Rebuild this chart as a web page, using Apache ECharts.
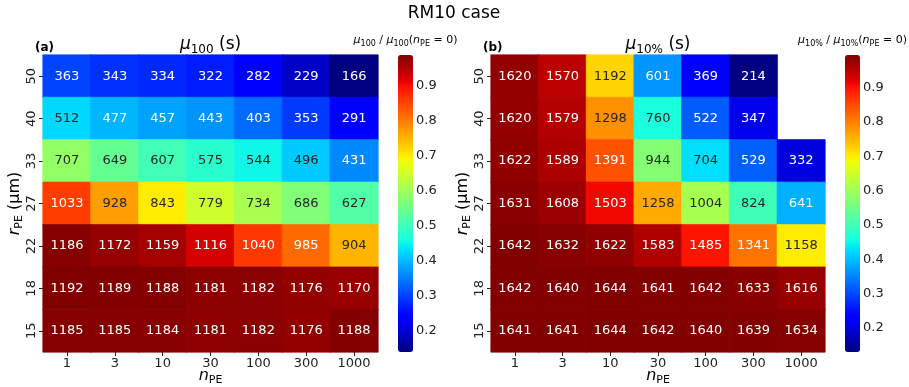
<!DOCTYPE html>
<html>
<head>
<meta charset="utf-8">
<script src="https://cdn.jsdelivr.net/npm/echarts@6/dist/echarts.min.js"></script>
<style>
  html, body { margin: 0; padding: 0; background: #fff; }
  #chart { width: 909px; height: 387px; }
</style>
</head>
<body>
<div id="chart"></div>
<script>
// rows are r_PE from top (50) to bottom (15), columns are n_PE
const rLabels = ['50', '40', '33', '27', '22', '18', '15'];
const nLabels = ['1', '3', '10', '30', '100', '300', '1000'];

const mu100 = [
  [363, 343, 334, 322, 282, 229, 166],
  [512, 477, 457, 443, 403, 353, 291],
  [707, 649, 607, 575, 544, 496, 431],
  [1033, 928, 843, 779, 734, 686, 627],
  [1186, 1172, 1159, 1116, 1040, 985, 904],
  [1192, 1189, 1188, 1181, 1182, 1176, 1170],
  [1185, 1185, 1184, 1181, 1182, 1176, 1188],
];
const mu10 = [
  [1620, 1570, 1192, 601, 369, 214, null],
  [1620, 1579, 1298, 760, 522, 347, null],
  [1622, 1589, 1391, 944, 704, 529, 332],
  [1631, 1608, 1503, 1258, 1004, 824, 641],
  [1642, 1632, 1622, 1583, 1485, 1341, 1158],
  [1642, 1640, 1644, 1641, 1642, 1633, 1616],
  [1641, 1641, 1644, 1642, 1640, 1639, 1634],
];
// value at n_PE = 0, used for the colourbar ratio
const mu100Ref = 1207;
const mu10Ref = 1652;
const cbTicks = [0.2, 0.3, 0.4, 0.5, 0.6, 0.7, 0.8, 0.9];

const FONT = 'DejaVu Sans';

// matplotlib jet
const lerp = (t, xs, ys) => {
  for (let i = 1; i < xs.length; i += 1) {
    if (t <= xs[i]) {
      const f = (t - xs[i - 1]) / (xs[i] - xs[i - 1]);
      return ys[i - 1] + f * (ys[i] - ys[i - 1]);
    }
  }
  return ys[ys.length - 1];
};
const jet = (t) => [
  lerp(t, [0, 0.35, 0.66, 0.89, 1], [0, 0, 1, 1, 0.5]),
  lerp(t, [0, 0.125, 0.375, 0.64, 0.91, 1], [0, 0, 1, 1, 0, 0]),
  lerp(t, [0, 0.11, 0.34, 0.65, 1], [0.5, 1, 1, 0, 0]),
];
const toHex = (c) => '#' + c.map((v) => Math.round(v * 255).toString(16).padStart(2, '0')).join('');
const jetColors = [];
for (let i = 0; i <= 200; i += 1) jetColors.push(toHex(jet(i / 200)));

const lum = (c) => {
  const lin = c.map((v) => (v <= 0.03928 ? v / 12.92 : Math.pow((v + 0.055) / 1.055, 2.4)));
  return 0.2126 * lin[0] + 0.7152 * lin[1] + 0.0722 * lin[2];
};

const flat = (m) => m.flat().filter((v) => v != null);

const buildData = (m) => {
  const vals = flat(m);
  const lo = Math.min(...vals);
  const hi = Math.max(...vals);
  const out = [];
  m.forEach((row, i) => {
    row.forEach((v, j) => {
      if (v == null) return;
      const c = jet((v - lo) / (hi - lo));
      out.push({
        value: [j, i, v],
        // thin border in the cell's own colour hides the seams between cells
        itemStyle: { borderColor: toHex(c), borderWidth: 0.6 },
        label: { color: lum(c) > 0.408 ? '#262626' : '#ffffff' },
      });
    });
  });
  return out;
};

const subRich = (size) => ({
  i: { fontFamily: FONT, fontSize: size, fontStyle: 'italic', lineHeight: size + 4, color: '#000' },
  n: { fontFamily: FONT, fontSize: size, lineHeight: size + 4, color: '#000' },
  s: { fontFamily: FONT, fontSize: Math.round(size * 0.7), lineHeight: Math.round(size * 0.7) + 1, verticalAlign: 'bottom', color: '#000' },
});

const panels = [
  { data: mu100, ref: mu100Ref, left: 43, width: 335, cbLeft: 398, sub: '100', tag: '(a)' },
  { data: mu10, ref: mu10Ref, left: 491, width: 334, cbLeft: 845, sub: '10%', tag: '(b)' },
];

const grid = [];
const xAxis = [];
const yAxis = [];
const series = [];
const visualMap = [];
const graphic = [];

panels.forEach((p, k) => {
  const vals = flat(p.data);
  const lo = Math.min(...vals);
  const hi = Math.max(...vals);
  grid.push({ left: p.left, top: 55, width: p.width, height: 297, outerBoundsMode: 'none', containLabel: false });
  grid.push({ left: p.cbLeft, top: 55, width: 15, height: 297, outerBoundsMode: 'none', containLabel: false });
  xAxis.push({
    type: 'category', gridIndex: 2 * k, data: nLabels,
    axisLine: { show: false },
    axisTick: { show: true, alignWithLabel: true, length: 4, lineStyle: { color: '#222' } },
    axisLabel: { fontFamily: FONT, fontSize: 13, color: '#222', margin: 5 },
    splitLine: { show: false },
    name: '{i|n}{s|PE}', nameLocation: 'middle', nameGap: 14, nameMoveOverlap: false,
    nameTextStyle: { rich: subRich(16), verticalAlign: 'top' },
  });
  xAxis.push({ type: 'value', gridIndex: 2 * k + 1, show: false, min: 0, max: 1 });
  yAxis.push({
    type: 'category', gridIndex: 2 * k, data: rLabels, inverse: true,
    axisLine: { show: false },
    axisTick: { show: true, alignWithLabel: true, length: 4, lineStyle: { color: '#222' } },
    axisLabel: { fontFamily: FONT, fontSize: 13, color: '#222', rotate: 90, margin: 5 },
    splitLine: { show: false },
    name: '{i|r}{s|PE}{n| (μm)}', nameLocation: 'middle', nameGap: 18, nameRotate: 90,
    nameMoveOverlap: false,
    nameTextStyle: { rich: subRich(16) },
  });
  yAxis.push({
    type: 'value', gridIndex: 2 * k + 1, position: 'right',
    min: lo / p.ref, max: hi / p.ref,
    axisLine: { show: false },
    splitLine: { show: false },
    axisTick: { show: true, length: 3.5, customValues: cbTicks, lineStyle: { color: '#222' } },
    axisLabel: {
      fontFamily: FONT, fontSize: 13, color: '#222', margin: 3,
      customValues: cbTicks, formatter: (v) => v.toFixed(1),
    },
  });
  series.push({
    type: 'heatmap', xAxisIndex: 2 * k, yAxisIndex: 2 * k,
    data: buildData(p.data),
    label: { show: true, fontFamily: FONT, fontSize: 13 },
    emphasis: { disabled: true },
  });
  visualMap.push({
    type: 'continuous', seriesIndex: k, dimension: 2, min: lo, max: hi,
    inRange: { color: jetColors }, calculable: false, hoverLink: false,
    left: p.cbLeft, top: 55, itemWidth: 15, itemHeight: 297, padding: 0,
    text: null, showLabel: false,
  });
  const cx = p.left + p.width / 2;
  graphic.push({
    type: 'text', x: cx, y: 45,
    style: {
      text: '{i|μ}{s|' + p.sub + '}{n| (s)}', align: 'center', verticalAlign: 'middle',
      rich: subRich(17),
    },
  });
  graphic.push({
    type: 'text', x: p.left - 8, y: 48,
    style: {
      text: p.tag, align: 'left', verticalAlign: 'middle',
      font: 'bold 12px "DejaVu Sans"', fill: '#000',
    },
  });
  graphic.push({
    type: 'text', x: p.cbLeft + 7.5, y: 40,
    style: {
      text: '{i|μ}{s|' + p.sub + '}{n| / }{i|μ}{s|' + p.sub + '}{n|(}{i|n}{s|PE}{n| = 0)}',
      align: 'center', verticalAlign: 'middle',
      rich: subRich(11),
    },
  });
});

graphic.push({
  type: 'text', x: 454, y: 14,
  style: {
    text: 'RM10 case', align: 'center', verticalAlign: 'middle',
    font: '17px "DejaVu Sans"', fill: '#000',
  },
});

const chart = echarts.init(document.getElementById('chart'));
chart.setOption({
  backgroundColor: '#fff',
  animation: false,
  grid,
  xAxis,
  yAxis,
  visualMap,
  series,
  graphic,
});
</script>
</body>
</html>
